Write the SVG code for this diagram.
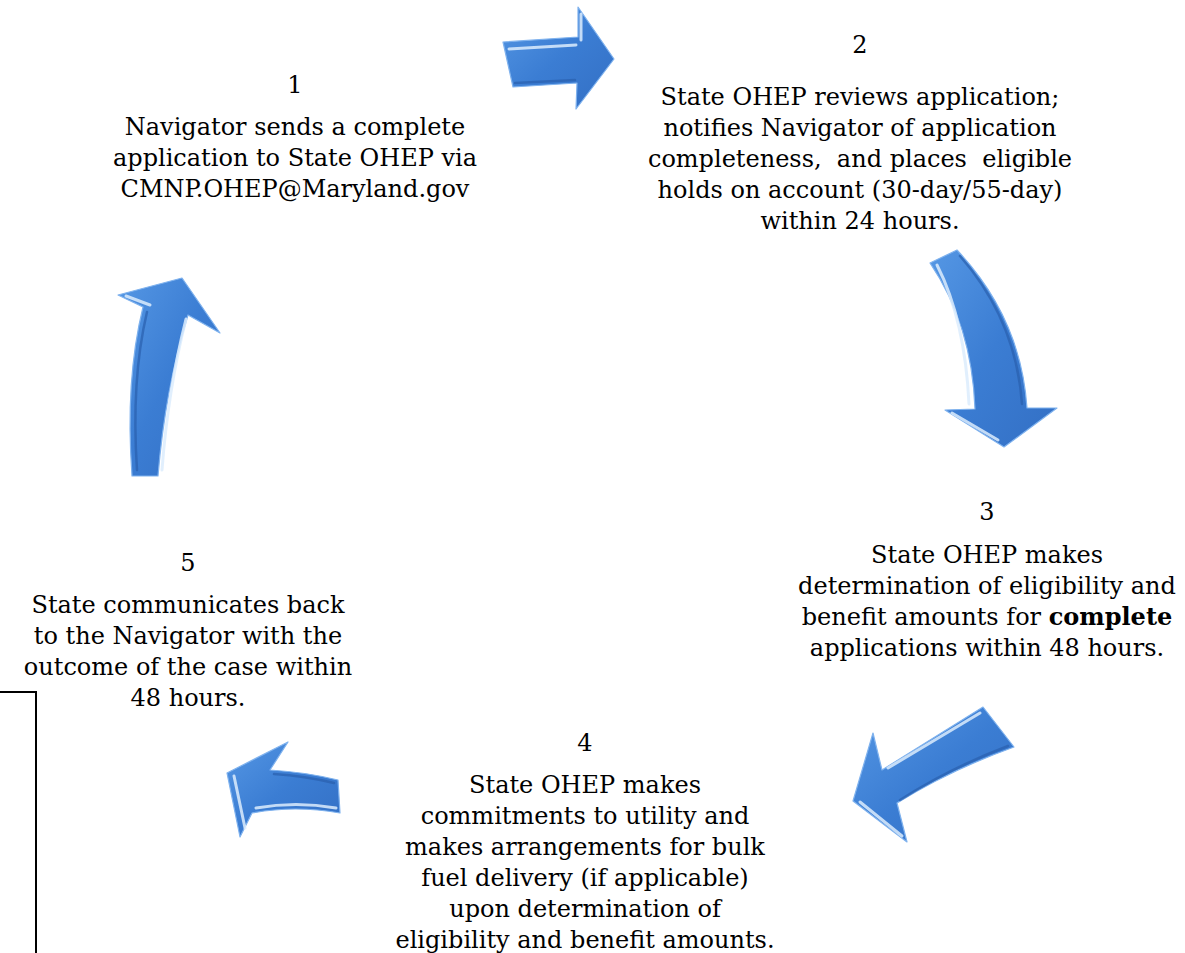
<svg xmlns="http://www.w3.org/2000/svg" width="1185" height="953" viewBox="0 0 1185 953">
<style>
.t{font-family:"DejaVu Serif","Liberation Serif",serif;font-size:24px;fill:#000;text-anchor:middle}
.b{font-weight:bold}
.arr{fill:url(#g);stroke:#7fb2ee;stroke-width:1.2;stroke-linejoin:round}
.hl{fill:none;stroke:#dcecfd;stroke-width:3;stroke-linecap:round;opacity:0.85}
.dk{fill:none;stroke:#2a5fae;stroke-width:2.5;stroke-linecap:round;opacity:0.7}
</style>
<defs>
<linearGradient id="g" x1="0" y1="0" x2="1" y2="1">
<stop offset="0" stop-color="#5597e4"/>
<stop offset="0.5" stop-color="#3b7dd3"/>
<stop offset="1" stop-color="#336fc4"/>
</linearGradient>
</defs>
<rect width="1185" height="953" fill="#fff"/>
<g id="connectors">
<g id="a12">
<path class="arr" d="M503,42 L578,37 L578,7 L614,59 L576,109 L577,83 L513,87 Z"/>
<path class="hl" d="M509,49 L576,45"/>
<path class="hl" d="M581,14 L581,40"/>
<path class="dk" d="M515,83 L575,80"/>
</g>
<g id="a23">
<path class="arr" d="M930,263 L957,250 Q1021,318 1027,408 L1057,408 L1004,447 L945,410 L975,409 Q972,325 930,263 Z"/>
<path class="hl" d="M937,265 Q965,320 969,404"/>
<path class="hl" d="M952,413 L998,440"/>
<path class="dk" d="M960,256 Q1016,320 1022,404"/>
</g>
<g id="a34">
<path class="arr" d="M983,707 L1014,747 Q950,770 897,803 L907,842 L853,801 L873,733 L882,770 Q930,740 983,707 Z"/>
<path class="hl" d="M860,802 L902,836"/>
<path class="hl" d="M888,768 Q930,743 980,713"/>
<path class="dk" d="M900,800 Q950,768 1008,746"/>
</g>
<g id="a45">
<path class="arr" d="M227,773 L288,742 L270,770 Q305,772 338,780 L340,813 Q295,805 252,813 L240,837 Z"/>
<path class="hl" d="M234,776 L245,828"/>
<path class="hl" d="M256,808 Q296,801 336,808"/>
<path class="dk" d="M274,774 Q305,776 334,783"/>
</g>
<g id="a51">
<path class="arr" d="M132,476 Q125,380 143,307 L118,295 L182,278 L220,333 L188,315 Q165,390 158,476 Z"/>
<path class="hl" d="M186,319 Q168,390 162,470"/>
<path class="hl" d="M126,296 L150,305"/>
<path class="dk" d="M137,470 Q131,380 147,312"/>
</g>
</g>
<g id="n1">
<text class="t" x="295" y="93">1</text>
<text class="t" x="295" y="135">Navigator sends a complete</text>
<text class="t" x="295" y="166">application to State OHEP via</text>
<text class="t" x="295" y="197">CMNP.OHEP@Maryland.gov</text>
</g>
<g id="n2">
<text class="t" x="860" y="53">2</text>
<text class="t" x="860" y="105">State OHEP reviews application;</text>
<text class="t" x="860" y="136">notifies Navigator of application</text>
<text class="t" x="860" y="167" xml:space="preserve">completeness,  and places  eligible</text>
<text class="t" x="860" y="198">holds on account (30-day/55-day)</text>
<text class="t" x="860" y="229">within 24 hours.</text>
</g>
<g id="n3">
<text class="t" x="987" y="520">3</text>
<text class="t" x="987" y="563">State OHEP makes</text>
<text class="t" x="987" y="594">determination of eligibility and</text>
<text class="t" x="987" y="625">benefit amounts for <tspan class="b">complete</tspan></text>
<text class="t" x="987" y="656">applications within 48 hours.</text>
</g>
<g id="n4">
<text class="t" x="585" y="751">4</text>
<text class="t" x="585" y="793">State OHEP makes</text>
<text class="t" x="585" y="824">commitments to utility and</text>
<text class="t" x="585" y="855">makes arrangements for bulk</text>
<text class="t" x="585" y="886">fuel delivery (if applicable)</text>
<text class="t" x="585" y="917">upon determination of</text>
<text class="t" x="585" y="948">eligibility and benefit amounts.</text>
</g>
<g id="n5">
<text class="t" x="188" y="571">5</text>
<text class="t" x="188" y="613">State communicates back</text>
<text class="t" x="188" y="644">to the Navigator with the</text>
<text class="t" x="188" y="675">outcome of the case within</text>
<text class="t" x="188" y="706">48 hours.</text>
</g>
<g id="frame">
<polyline points="0,692 36,692 36,953" fill="none" stroke="#000" stroke-width="2"/>
</g>
</svg>
